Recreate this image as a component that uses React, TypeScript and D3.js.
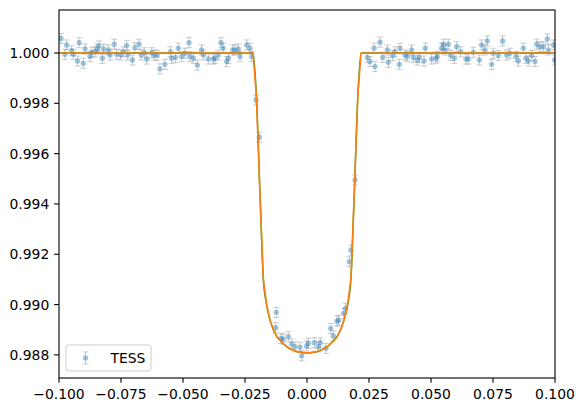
import React from "react";
import * as d3 from "d3";

// Phase-folded TESS light curve, times (days from mid-transit) and relative flux
const dataTime: number[] = [
  -0.0992, -0.0976, -0.0969, -0.0949, -0.0942, -0.0925, -0.0919, -0.0902, -0.0895, -0.0875,
  -0.0868, -0.0855, -0.0846, -0.0839, -0.0825, -0.0820, -0.0801, -0.0794, -0.0777, -0.0767,
  -0.0751, -0.0741, -0.0727, -0.0723, -0.0704, -0.0694, -0.0677, -0.0669, -0.0656, -0.0646,
  -0.0626, -0.0616, -0.0604, -0.0593, -0.0573, -0.0551, -0.0546, -0.0530, -0.0519, -0.0505,
  -0.0492, -0.0476, -0.0472, -0.0458, -0.0442, -0.0425, -0.0418, -0.0398, -0.0378, -0.0371,
  -0.0358, -0.0347, -0.0338, -0.0324, -0.0317, -0.0300, -0.0290, -0.0277, -0.0270, -0.0243,
  -0.0230, -0.0223,
  -0.02056, -0.01923,
  -0.01238, -0.01262, -0.01048, -0.00956, -0.00754, -0.00617, -0.00484, -0.00282, -0.00214, -0.00012,
  0.00052, 0.00294, 0.00456, 0.00536, 0.00766, 0.00956, 0.01060, 0.01210, 0.01278, 0.01480,
  0.01560, 0.01706, 0.01774, 0.01935,
  0.02433, 0.02540, 0.02702, 0.02742, 0.02944, 0.03052, 0.03239, 0.03280, 0.03454, 0.03548,
  0.03723, 0.03750, 0.03952, 0.04046, 0.04220, 0.04288, 0.04449, 0.04530, 0.04718, 0.04772,
  0.05027, 0.05202, 0.05255, 0.05430, 0.05497, 0.05565, 0.05699, 0.05793, 0.05941, 0.06035,
  0.06196, 0.06411, 0.06505, 0.06707, 0.06949, 0.07043, 0.07177, 0.07271, 0.07446, 0.07513,
  0.07715, 0.07890, 0.08051, 0.08185, 0.08427, 0.08521, 0.08723, 0.08831, 0.08925, 0.09060,
  0.09194, 0.09261, 0.09395, 0.09530, 0.09691, 0.09731, 0.09933, 0.09985,
];

const dataFlux: number[] = [
  1.00058, 0.99995, 1.00032, 1.00009, 0.99995, 0.99968, 1.00041, 0.99959, 1.00016, 0.99986,
  1.00003, 1.00005, 1.00016, 1.00028, 0.99979, 1.00016, 1.00012, 0.99992, 1.00035, 0.99995,
  0.99992, 1.00005, 1.00029, 0.99992, 0.99972, 1.00021, 1.00035, 0.99992, 1.00001, 0.99976,
  1.00001, 0.99992, 0.99990, 0.99937, 0.99955, 1.00005, 0.99979, 0.99982, 1.00019, 0.99986,
  0.99999, 1.00041, 0.99986, 0.99979, 0.99952, 1.00012, 0.99992, 0.99976, 0.99976, 0.99979,
  0.99992, 1.00041, 1.00019, 0.99966, 0.99979, 1.00012, 1.00012, 1.00016, 0.99986, 1.00032,
  1.00019, 0.99986,
  0.99813, 0.99665,
  0.98969, 0.98908, 0.98865, 0.98862, 0.98872, 0.98843, 0.98832, 0.98830, 0.98796, 0.98835,
  0.98846, 0.98848, 0.98832, 0.98848, 0.98826, 0.98905, 0.98875, 0.98934, 0.98938, 0.98965,
  0.98985, 0.99170, 0.99216, 0.99495,
  0.99982, 0.99966, 1.00019, 0.99946, 1.00043, 0.99982, 1.00012, 0.99963, 0.99990, 1.00005,
  0.99955, 1.00019, 0.99992, 0.99986, 1.00012, 0.99982, 0.99972, 0.99982, 0.99968, 1.00019,
  0.99976, 0.99979, 0.99986, 1.00019, 1.00035, 1.00012, 1.00035, 0.99990, 0.99979, 1.00025,
  1.00005, 0.99976, 0.99976, 1.00003, 0.99972, 1.00032, 1.00012, 1.00048, 0.99955, 0.99999,
  0.99990, 1.00048, 0.99992, 0.99999, 0.99986, 0.99968, 1.00019, 0.99979, 0.99968, 0.99990,
  0.99966, 1.00035, 1.00025, 1.00025, 1.00056, 1.00012, 1.00032, 0.99972,
];

const fluxErr = 0.0002;

// Transit model (orange) sampled on a coarse grid
const modelTime: number[] = [
  -0.1, -0.0218, -0.0204, -0.019, -0.0176, -0.0162, -0.0149, -0.0135, -0.0121, -0.0107,
  -0.0093, -0.0079, -0.0065, -0.0051, -0.0037, -0.0024, -0.001, 0.0, 0.001, 0.0024,
  0.0038, 0.0052, 0.0066, 0.008, 0.0093, 0.0107, 0.0121, 0.0135, 0.0149, 0.0163,
  0.0177, 0.0191, 0.0205, 0.0218, 0.1,
];
const modelFlux: number[] = [
  1.0, 1.0, 0.9983, 0.9945, 0.991, 0.98995, 0.98938, 0.98899, 0.98872, 0.98856,
  0.98842, 0.98831, 0.98823, 0.98817, 0.98812, 0.9881, 0.98808, 0.98808, 0.98808, 0.9881,
  0.98812, 0.98817, 0.98823, 0.98831, 0.98842, 0.98856, 0.98872, 0.98899, 0.98938, 0.98995,
  0.991, 0.9945, 0.9983, 1.0, 1.0,
];

const xTicks: number[] = [-0.1, -0.075, -0.05, -0.025, 0, 0.025, 0.05, 0.075, 0.1];
const yTicks: number[] = [0.988, 0.99, 0.992, 0.994, 0.996, 0.998, 1.0];
const legendLabel = "TESS";

const W = 585;
const H = 413;
const M = { left: 59, right: 555, top: 10, bottom: 378 };
const FONT = "DejaVu Sans, sans-serif";
const FS = 13.9;

export default function App() {
  const x = d3.scaleLinear().domain([-0.1, 0.1]).range([M.left, M.right]);
  const y = d3.scaleLinear().domain([0.98708, 1.00171]).range([M.bottom, M.top]);
  const fmt = d3.format(".3f");

  const pts = dataTime.map((t, i) => ({ t, f: dataFlux[i] }));
  const model = modelTime.map((t, i) => ({ t, f: modelFlux[i] }));
  const lineOrange = d3
    .line<{ t: number; f: number }>()
    .x((d) => x(d.t))
    .y((d) => y(d.f));
  const lineGreen = d3
    .line<{ t: number; f: number }>()
    .x((d) => x(d.t))
    .y((d) => y(d.f))
    .curve(d3.curveMonotoneX);

  const tickLen = 4.86;
  const pad = 4.86;
  const cap = 3;

  // legend geometry
  const lgX = 66;
  const lgY = 345;
  const lgW = 85;
  const lgH = 26;
  const hx = lgX + 5.6 + 13.9;
  const hy = lgY + lgH / 2;

  return (
    <svg
      width={W}
      height={H}
      style={{ position: "fixed", left: 0, top: 0, background: "#fff" }}
      fontFamily={FONT}
    >
      <defs>
        <clipPath id="plotclip">
          <rect x={M.left} y={M.top} width={M.right - M.left} height={M.bottom - M.top} />
        </clipPath>
      </defs>
      <rect x={0} y={0} width={W} height={H} fill="#fff" />
      <g clipPath="url(#plotclip)">
        {pts.map((d, i) => {
          const cx = x(d.t);
          const y1 = y(d.f + fluxErr);
          const y2 = y(d.f - fluxErr);
          return (
            <g key={"e" + i} stroke="#8c8c8c" strokeOpacity={0.45} strokeWidth={1}>
              <line x1={cx} x2={cx} y1={y1} y2={y2} />
              <line x1={cx - cap} x2={cx + cap} y1={y1} y2={y1} />
              <line x1={cx - cap} x2={cx + cap} y1={y2} y2={y2} />
            </g>
          );
        })}
        {pts.map((d, i) => (
          <circle key={"p" + i} cx={x(d.t)} cy={y(d.f)} r={2.7} fill="#1f77b4" fillOpacity={0.42} />
        ))}
        <path d={lineGreen(model) || ""} fill="none" stroke="#2ca02c" strokeWidth={1.5} />
        <path d={lineOrange(model) || ""} fill="none" stroke="#ff7f0e" strokeWidth={1.6} strokeLinejoin="round" />
      </g>

      {/* spines */}
      <rect
        x={M.left}
        y={M.top}
        width={M.right - M.left}
        height={M.bottom - M.top}
        fill="none"
        stroke="#000"
        strokeWidth={1.1}
      />

      {/* x axis */}
      {xTicks.map((t) => (
        <g key={"xt" + t}>
          <line x1={x(t)} x2={x(t)} y1={M.bottom} y2={M.bottom + tickLen} stroke="#000" strokeWidth={1.1} />
          <text
            x={x(t)}
            y={M.bottom + tickLen + pad}
            dy="0.78em"
            textAnchor="middle"
            fontSize={FS}
            fill="#000"
          >
            {fmt(t)}
          </text>
        </g>
      ))}

      {/* y axis */}
      {yTicks.map((t) => (
        <g key={"yt" + t}>
          <line x1={M.left - tickLen} x2={M.left} y1={y(t)} y2={y(t)} stroke="#000" strokeWidth={1.1} />
          <text
            x={M.left - tickLen - pad}
            y={y(t)}
            dy="0.36em"
            textAnchor="end"
            fontSize={FS}
            fill="#000"
          >
            {fmt(t)}
          </text>
        </g>
      ))}

      {/* legend */}
      <rect
        x={lgX}
        y={lgY}
        width={lgW}
        height={lgH}
        rx={2.8}
        fill="#fff"
        fillOpacity={0.8}
        stroke="#cccccc"
        strokeWidth={1}
      />
      <g stroke="#8c8c8c" strokeOpacity={0.45} strokeWidth={1}>
        <line x1={hx} x2={hx} y1={hy - 6} y2={hy + 6} />
        <line x1={hx - cap} x2={hx + cap} y1={hy - 6} y2={hy - 6} />
        <line x1={hx - cap} x2={hx + cap} y1={hy + 6} y2={hy + 6} />
      </g>
      <circle cx={hx} cy={hy} r={2.7} fill="#1f77b4" fillOpacity={0.42} />
      <text x={lgX + 5.6 + 27.8 + 11.1} y={hy} dy="0.36em" fontSize={FS} fill="#000">
        {legendLabel}
      </text>
    </svg>
  );
}
